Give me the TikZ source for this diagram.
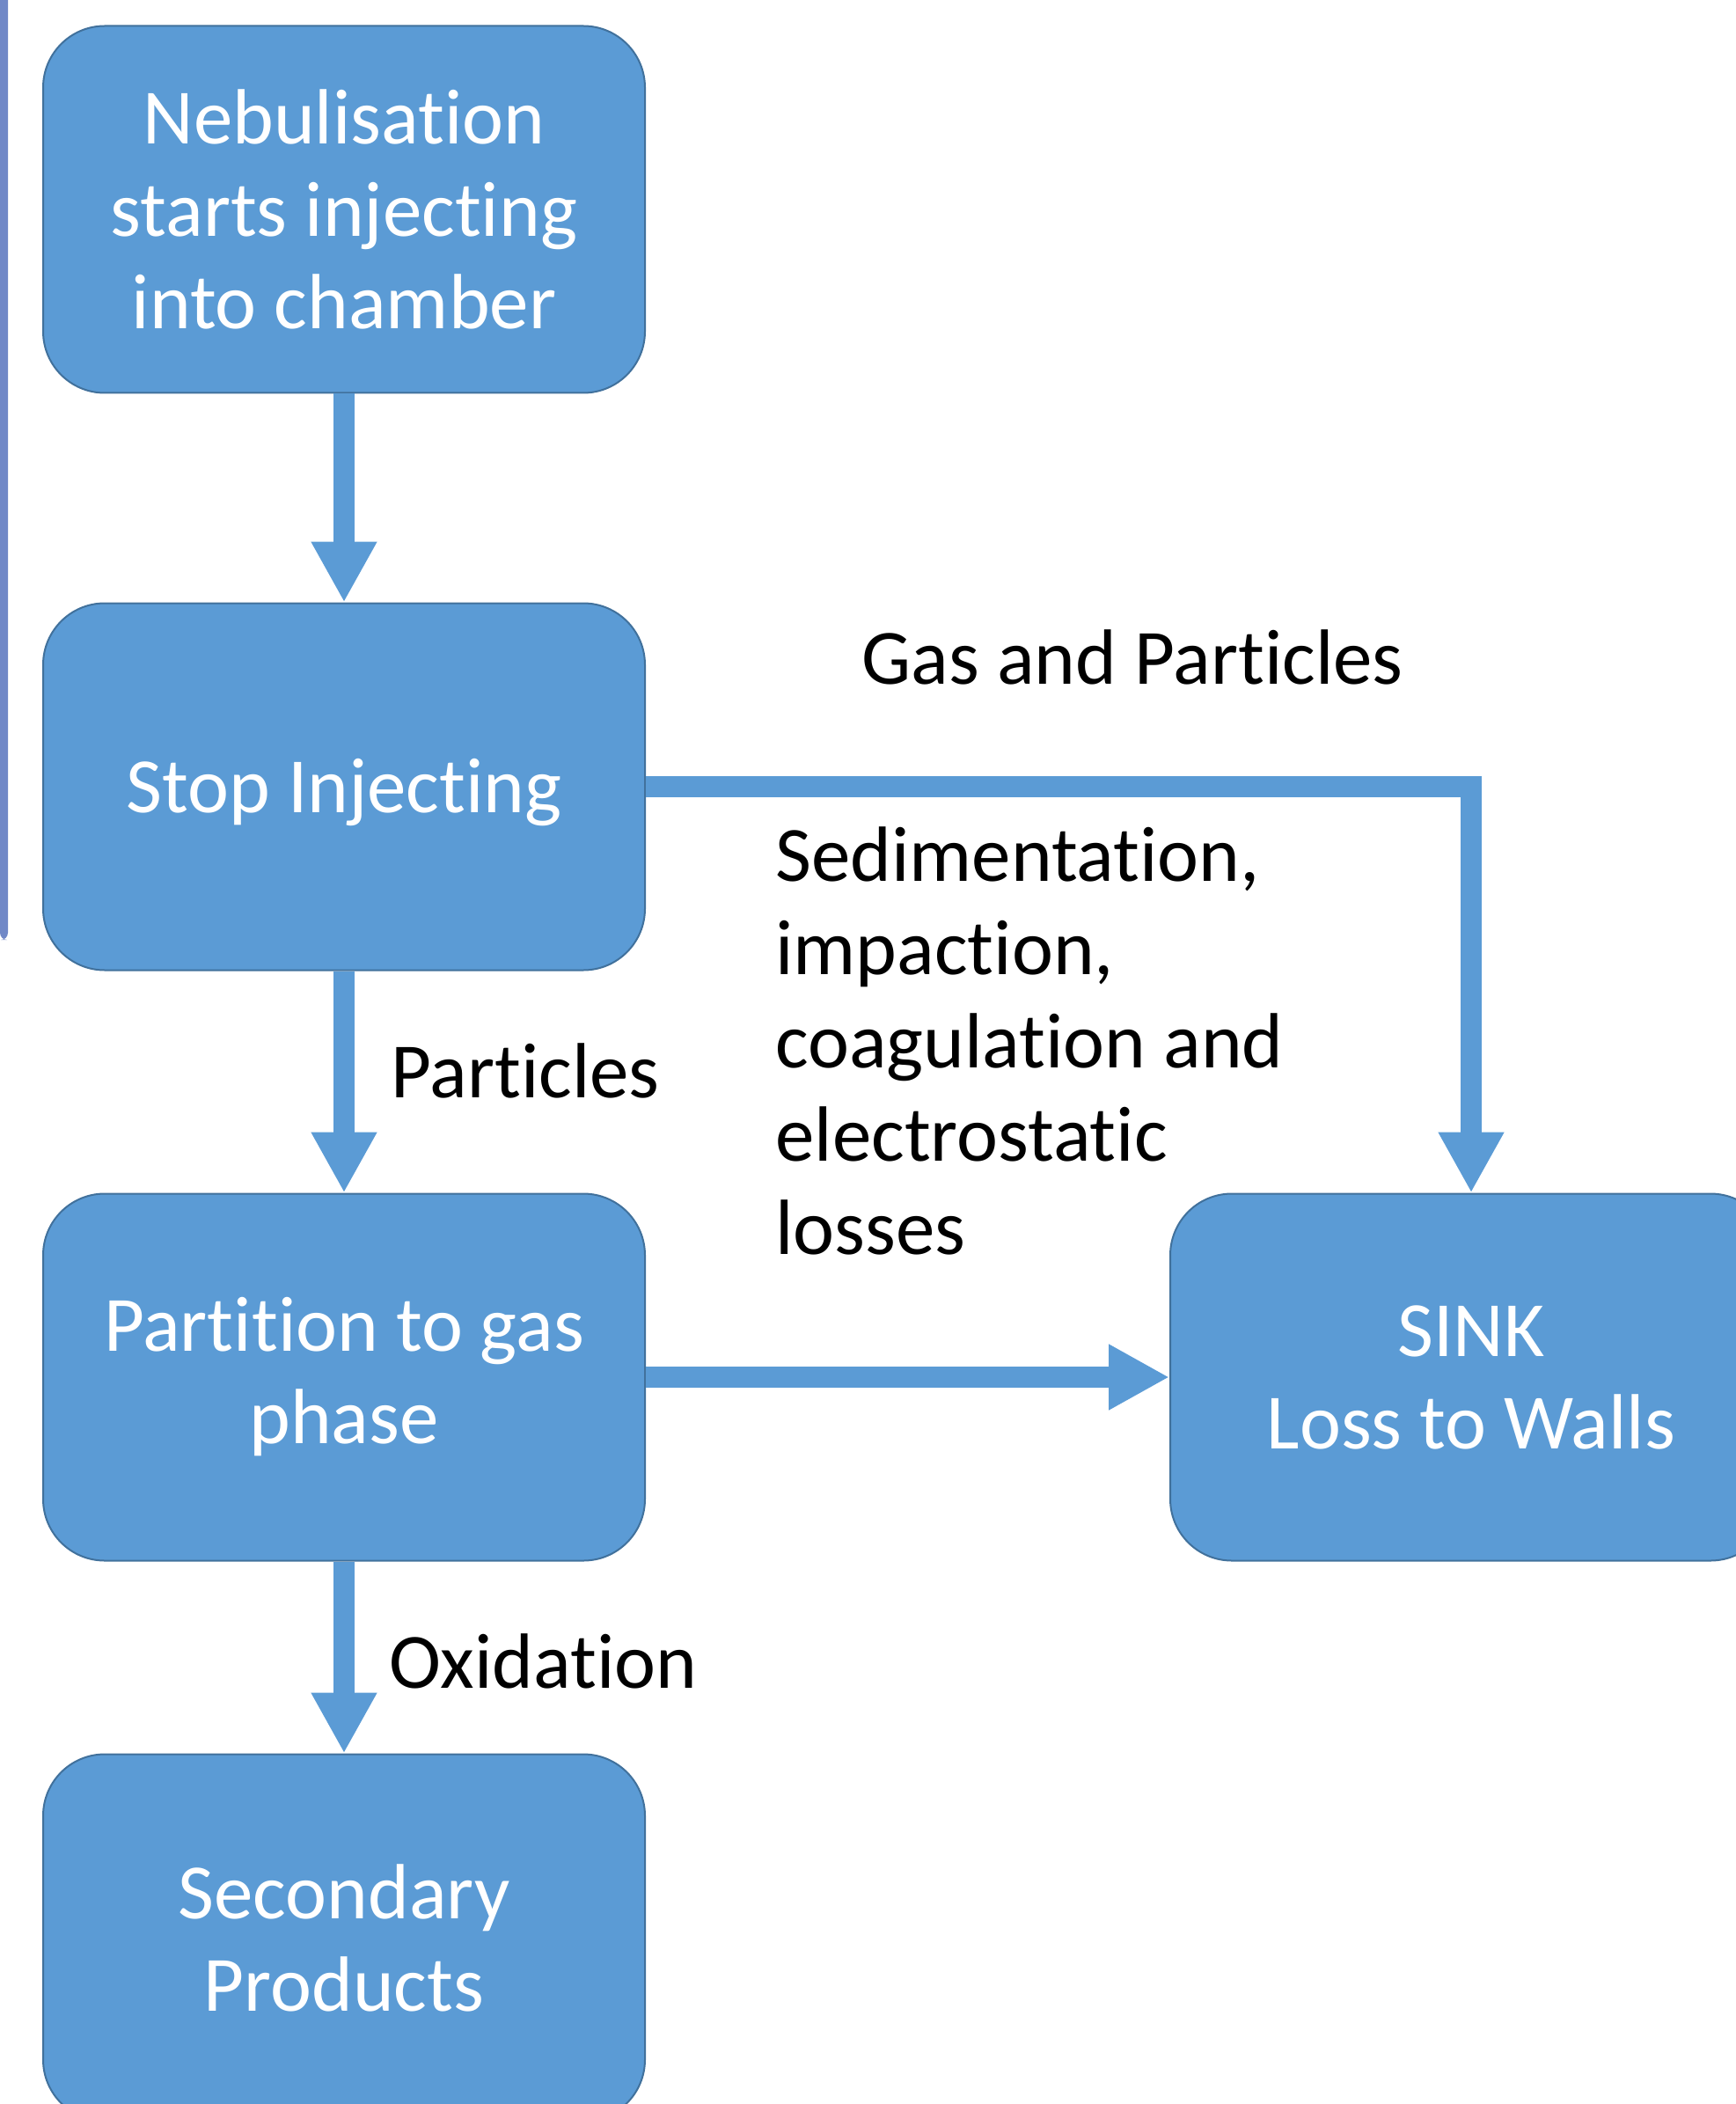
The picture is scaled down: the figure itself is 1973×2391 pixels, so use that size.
\documentclass[tikz,border=0pt]{standalone}
\usepackage{fontspec}
\setmainfont{Carlito}[Ligatures={NoCommon,NoRare,NoContextual},Contextuals={NoAlternate}]
\usetikzlibrary{arrows.meta}
\definecolor{boxblue}{HTML}{5B9BD5}
\definecolor{boxedge}{HTML}{41719C}
\definecolor{sidebar}{HTML}{7088C7}
\newcommand\tkn{t\kern0pt }
\begin{document}
\begin{tikzpicture}[x=0.5pt,y=-0.5pt,
  box/.style={draw=boxedge, line width=1pt, fill=boxblue, rounded corners=35pt,
    minimum width=342pt, minimum height=208.5pt, text=white, align=center,
    font=\fontsize{44.5}{52.5}\selectfont, inner sep=0pt},
  lbl/.style={text=black, align=left, font=\fontsize{44.5}{53}\selectfont, inner sep=0pt},
  conn/.style={draw=boxblue, line width=12pt, line join=miter,
    -{Triangle[length=34.5pt,width=35pt]}}]
\clip (0,0) rectangle (1973,2391);
\fill[sidebar, rounded corners=4pt] (0,-20) rectangle (9,1068);
\node[box] (neb) at (391,238) {Nebulisa\tkn ion\\starts injecting\\into chamber};
\node[box] (stop) at (391,894) {\raisebox{-3.5pt}[\height][\depth]{Stop Injecting}};
\node[box] (part) at (391,1565) {Par\tkn i\tkn ion to gas\\phase};
\node[box] (sink) at (1672,1565) {SINK\\Loss to Walls};
\node[box] (sec) at (391,2202) {Secondary\\Products};
\draw[conn] (neb) -- (stop);
\draw[conn] (stop) -- (part);
\draw[conn] (part) -- (sec);
\draw[conn] (part) -- (sink);
\draw[conn] (stop.east) -| (sink.north);
\node[lbl] (gas) at (1287,747) {Gas and Par\tkn icles};
\node[lbl, anchor=west] (sed) at (881,1183) {Sedimenta\tkn ion,\\impac\tkn ion,\\coagula\tkn ion and\\electrosta\tkn ic\\losses};
\node[lbl, anchor=west] (partl) at (444,1217) {Par\tkn icles};
\node[lbl, anchor=west] (oxl) at (442,1888) {Oxida\tkn ion};
\end{tikzpicture}
\end{document}
